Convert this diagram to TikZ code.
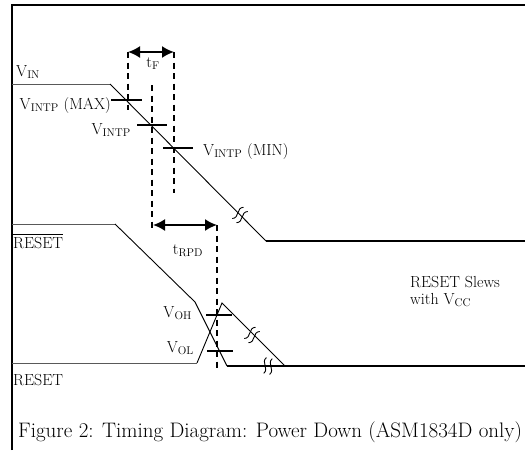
\documentclass[tikz,border=0pt]{standalone}
\usetikzlibrary{arrows.meta}

\newcommand{\siglabelfont}{\fontsize{16}{18}\selectfont}
\newcommand{\captionfont}{\fontsize{21}{24}\selectfont}

\tikzstyle{frame} = [line width=1.8pt]
\tikzstyle{lowlevel} = [line width=0.9pt,black!65]
\tikzstyle{slope} = [line width=0.9pt]
\tikzstyle{level} = [line width=1.8pt]
\tikzstyle{tickmark} = [line width=1.6pt]
\tikzstyle{guide} = [line width=1.6pt,dash pattern=on 6pt off 4.5pt]
\tikzstyle{timearrow} = [line width=1.8pt,{Latex[length=12pt,width=12pt]}-{Latex[length=12pt,width=12pt]}]
\tikzstyle{siglabel} = [font=\siglabelfont,inner sep=0pt]
\tikzset{brk/.pic={
	\draw[line width=0.9pt] (-3,-8) .. controls (-8,-2.5) and (2,2.5) .. (-3,8);
	\draw[line width=0.9pt] (3,-8) .. controls (-2,-2.5) and (8,2.5) .. (3,8);
}}

\begin{document}
\begin{tikzpicture}[x=1pt,y=-1pt]
	\useasboundingbox (0,0) rectangle (525,450);

	% frame
	\coordinate (fbot) at (12,450);
	\coordinate (fcorner) at (12,5);
	\coordinate (fright) at (525,5);
	\draw[frame] (fbot) -- (fcorner) -- (fright);

	% V_IN
	\coordinate (vin0) at (12,84);
	\coordinate (vin1) at (110,84);
	\coordinate (vin2) at (266,241);
	\coordinate (vin3) at (525,241);
	\draw[lowlevel] (vin0) -- (vin1);
	\draw[slope] (vin1) -- (vin2);
	\draw[level] (vin2) -- (vin3);
	\pic[rotate=-45] at (240,215) {brk};

	% RESET bar
	\coordinate (rb0) at (12,224);
	\coordinate (rb1) at (115,224);
	\coordinate (rb2) at (195,302);
	\coordinate (rb3) at (227,366);
	\coordinate (rb4) at (525,366);
	\draw[lowlevel] (rb0) -- (rb1);
	\draw[slope] (rb1) -- (rb2) -- (rb3);
	\draw[level] (rb3) -- (rb4);
	\pic[rotate=-10] at (268,366) {brk};

	% RESET
	\coordinate (r0) at (12,363);
	\coordinate (r1) at (197,363);
	\coordinate (r2) at (222,303);
	\coordinate (r3) at (285,366);
	\draw[lowlevel] (r0) -- (r1);
	\draw[slope] (r1) -- (r2) -- (r3);
	\pic[rotate=-45] at (252,335) {brk};

	% thresholds
	\draw[tickmark] (111,100) -- (142,100);
	\draw[tickmark] (137,125) -- (167,125);
	\draw[tickmark] (163,148) -- (193,148);
	\draw[tickmark] (206,315) -- (232,315);
	\draw[tickmark] (207,351) -- (233,351);

	% timing guides
	\coordinate (ga0) at (128,52);
	\coordinate (ga1) at (128,110);
	\coordinate (gb0) at (152,85);
	\coordinate (gb1) at (152,232);
	\coordinate (gc0) at (174,52);
	\coordinate (gc1) at (174,193);
	\coordinate (gd0) at (217,225);
	\coordinate (gd1) at (217,370);
	\draw[guide] (ga0) -- (ga1);
	\draw[guide] (gb0) -- (gb1);
	\draw[guide] (gc0) -- (gc1);
	\draw[guide] (gd0) -- (gd1);

	\draw[timearrow] (ga0) -- (gc0);
	\draw[timearrow] (153,225) -- (gd0);

	% labels
	\node[siglabel,anchor=base west] (lvin) at (16,76) {V\textsubscript{IN}};
	\node[siglabel,anchor=base east] (lmax) at (111,109) {V\textsubscript{INTP} (MAX)};
	\node[siglabel,anchor=base east] (lintp) at (131,134) {V\textsubscript{INTP}};
	\node[siglabel,anchor=base west] (lmin) at (203,155) {V\textsubscript{INTP} (MIN)};
	\node[siglabel,anchor=base] (ltf) at (153,67) {t\textsubscript{F}};
	\node[siglabel,anchor=base] (ltrpd) at (188,254) {t\textsubscript{RPD}};
	\node[siglabel,anchor=base west] (lrb) at (13,248) {RESET};
	\draw[line width=0.8pt] ([yshift=2pt]lrb.north west) -- ([yshift=2pt]lrb.north east);
	\node[siglabel,anchor=base west] (lr) at (13,385) {RESET};
	\node[siglabel,anchor=base east] (loh) at (192,317) {V\textsubscript{OH}};
	\node[siglabel,anchor=base east] (lol) at (194,352) {V\textsubscript{OL}};
	\node[siglabel,anchor=base west] (lslew) at (410,287) {RESET Slews};
	\node[siglabel,anchor=base west] (lvcc) at (410,304) {with V\textsubscript{CC}};
	\node[anchor=base west,inner sep=0pt,font=\captionfont] (caption) at (18,437)
		{Figure 2: Timing Diagram: Power Down (ASM1834D only)};
\end{tikzpicture}
\end{document}
